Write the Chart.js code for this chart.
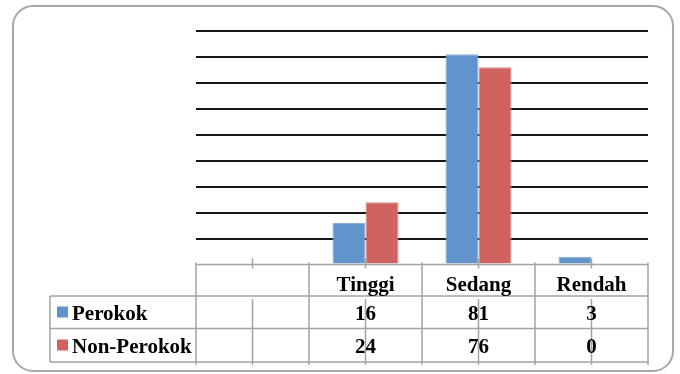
<!DOCTYPE html>
<html>
<head>
<meta charset="utf-8">
<script src="https://cdn.jsdelivr.net/npm/chart.js@4"></script>
<style>
  html, body { margin: 0; padding: 0; background: #fff; }
  #wrap { width: 680px; height: 374px; position: relative; }
</style>
</head>
<body>
<div id="wrap"><canvas id="chart"></canvas></div>
<script>
  // kategori (kolom pertama sengaja kosong)
  const categories = ['', 'Tinggi', 'Sedang', 'Rendah'];
  const perokok = [null, 16, 81, 3];
  const nonPerokok = [null, 24, 76, 0];
  const seriesNames = ['Perokok', 'Non-Perokok'];
  const seriesColors = ['#6194CC', '#D0635F'];
  const seriesBorders = ['#8AAFDA', '#DE8B88'];

  const LINE = '#A3A3A3';
  const FONT = 'bold 21px "Liberation Serif", "Times New Roman", serif';

  // bingkai luar dengan sudut membulat
  const frame = {
    id: 'frame',
    beforeDraw(chart) {
      const ctx = chart.ctx;
      ctx.save();
      ctx.strokeStyle = '#A8A8A8';
      ctx.lineWidth = 2;
      ctx.beginPath();
      ctx.roundRect(13, 6, 660, 365, 20);
      ctx.stroke();
      ctx.restore();
    }
  };

  // tabel data di bawah grafik
  const dataTable = {
    id: 'dataTable',
    afterDraw(chart) {
      const ctx = chart.ctx;
      const x = chart.scales.x;
      const area = chart.chartArea;
      const step = (area.right - area.left) / categories.length;
      const rows = [area.bottom, 296, 328.5, 362];
      const legendLeft = 50;

      ctx.save();
      ctx.strokeStyle = LINE;
      ctx.lineWidth = 1.5;

      // garis horizontal
      ctx.beginPath();
      ctx.moveTo(area.left, rows[0]); ctx.lineTo(area.right, rows[0]);
      for (let i = 1; i < rows.length; i++) {
        ctx.moveTo(legendLeft, rows[i]); ctx.lineTo(area.right, rows[i]);
      }
      // garis vertikal batas kolom
      ctx.moveTo(legendLeft, rows[1]); ctx.lineTo(legendLeft, rows[3]);
      for (let i = 0; i <= categories.length; i++) {
        const cx = area.left + i * step;
        ctx.moveTo(cx, rows[0] - 2); ctx.lineTo(cx, rows[3] + 3);
      }
      // tanda tengah kategori
      categories.forEach((c, i) => {
        const mx = x.getPixelForValue(i);
        ctx.moveTo(mx, rows[0] - 6); ctx.lineTo(mx, rows[0] + 4);
        ctx.moveTo(mx, rows[1] + 3); ctx.lineTo(mx, rows[3] + 3);
      });
      ctx.stroke();

      ctx.fillStyle = '#000';
      ctx.font = FONT;
      ctx.textAlign = 'center';
      ctx.textBaseline = 'alphabetic';
      categories.forEach((c, i) => {
        const mx = x.getPixelForValue(i);
        ctx.fillText(c, mx, 291);
        if (perokok[i] !== null) ctx.fillText(String(perokok[i]), mx, 319.5);
        if (nonPerokok[i] !== null) ctx.fillText(String(nonPerokok[i]), mx, 352.5);
      });

      // legenda di kolom kiri
      const baselines = [319.5, 352.5];
      seriesNames.forEach((name, i) => {
        ctx.fillStyle = seriesColors[i];
        ctx.fillRect(57, baselines[i] - 13, 11, 11);
        ctx.fillStyle = '#000';
        ctx.textAlign = 'left';
        ctx.fillText(name, 72, baselines[i]);
      });
      ctx.restore();
    }
  };

  new Chart(document.getElementById('chart'), {
    type: 'bar',
    data: {
      labels: categories,
      datasets: [
        { label: seriesNames[0], data: perokok, backgroundColor: seriesColors[0],
          borderColor: seriesBorders[0], borderWidth: 1 },
        { label: seriesNames[1], data: nonPerokok, backgroundColor: seriesColors[1],
          borderColor: seriesBorders[1], borderWidth: 1 }
      ]
    },
    options: {
      responsive: true,
      maintainAspectRatio: false,
      animation: false,
      layout: { padding: { left: 196, right: 32, top: 31, bottom: 109.5 } },
      datasets: { bar: { categoryPercentage: 0.585, barPercentage: 1 } },
      plugins: { legend: { display: false }, tooltip: { enabled: false } },
      scales: {
        x: { display: false },
        y: {
          min: 0, max: 90,
          ticks: { display: false, stepSize: 10 },
          border: { display: false },
          grid: {
            color: ctx => ctx.tick.value === 0 ? 'rgba(0,0,0,0)' : '#151515',
            lineWidth: 2,
            drawTicks: false
          }
        }
      }
    },
    plugins: [frame, dataTable]
  });
</script>
</body>
</html>
